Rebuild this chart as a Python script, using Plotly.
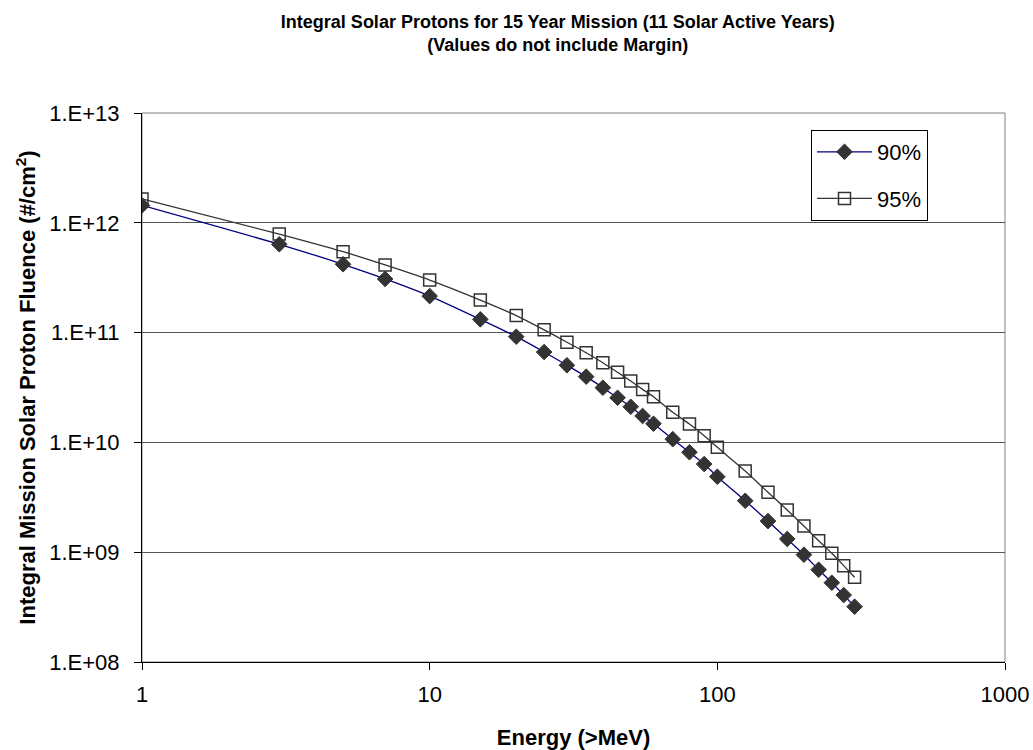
import plotly.graph_objects as go

energy = [1, 3, 5, 7, 10, 15, 20, 25, 30, 35, 40, 45, 50, 55, 60, 70, 80, 90, 100,
          125, 150, 175, 200, 225, 250, 275, 300]
fluence_90 = [1.44e12, 6.37e11, 4.19e11, 3.08e11, 2.15e11, 1.32e11, 9.18e10, 6.65e10,
              5.04e10, 3.97e10, 3.15e10, 2.55e10, 2.11e10, 1.74e10, 1.48e10, 1.07e10,
              8.13e9, 6.35e9, 4.87e9, 2.94e9, 1.92e9, 1.32e9, 9.49e8, 6.93e8, 5.27e8,
              4.07e8, 3.19e8]
fluence_95 = [1.65e12, 7.90e11, 5.46e11, 4.13e11, 3.01e11, 1.98e11, 1.43e11, 1.06e11,
              8.17e10, 6.56e10, 5.32e10, 4.35e10, 3.62e10, 3.04e10, 2.61e10, 1.88e10,
              1.47e10, 1.15e10, 9.02e9, 5.49e9, 3.51e9, 2.42e9, 1.73e9, 1.27e9, 9.77e8,
              7.54e8, 5.91e8]

x_ticks = [1, 10, 100, 1000]
x_ticktext = ["1", "10", "100", "1000"]
y_ticks = [1e8, 1e9, 1e10, 1e11, 1e12, 1e13]
y_ticktext = ["1.E+08", "1.E+09", "1.E+10", "1.E+11", "1.E+12", "1.E+13"]

FONT = "Liberation Sans, Arial, sans-serif"

fig = go.Figure()
fig.add_trace(go.Scatter(
    x=energy, y=fluence_90, name="90%", mode="lines+markers", legendgroup="a",
    line=dict(color="#000080", width=1.3, shape="spline", smoothing=0.6),
    marker=dict(symbol="diamond", size=12, color="#333333",
                line=dict(color="#333333", width=1)),
))
fig.add_trace(go.Scatter(
    x=energy, y=fluence_95, name="95%", mode="lines+markers", legendgroup="b",
    line=dict(color="#333333", width=1.3, shape="spline", smoothing=0.6),
    marker=dict(symbol="square-open", size=12, color="#333333",
                line=dict(color="#333333", width=1.5)),
))

fig.update_layout(
    width=1033, height=750,
    margin=dict(l=142, r=28, t=113, b=88),
    paper_bgcolor="white", plot_bgcolor="white",
    font=dict(family=FONT, color="black", size=22),
    title=dict(
        text="<b>Integral Solar Protons for 15 Year Mission (11 Solar Active Years)<br>"
             "(Values do not include Margin)</b>",
        x=0.54, xref="container", xanchor="center",
        y=0.963, yref="container", yanchor="top",
        font=dict(size=18, family=FONT, color="black"),
    ),
    showlegend=True,
    legend=dict(
        x=(811 - 142) / (1005 - 142), y=(662 - 130) / (662 - 113),
        xanchor="left", yanchor="top",
        bgcolor="white", bordercolor="black", borderwidth=1,
        font=dict(size=22, family=FONT, color="black"),
        itemwidth=55, tracegroupgap=15,
    ),
)

fig.update_xaxes(
    type="log", range=[0, 3], automargin=False,
    tickvals=x_ticks, ticktext=x_ticktext,
    ticks="outside", ticklen=7, tickcolor="black", tickwidth=1,
    showline=True, linecolor="black", linewidth=1, mirror=False,
    showgrid=False, zeroline=False, ticklabelstandoff=6,
    title=dict(text="<b>Energy (>MeV)</b>", font=dict(size=22, family=FONT), standoff=23),
    tickfont=dict(size=22, family=FONT),
)
fig.update_yaxes(
    type="log", range=[8, 13], automargin=False,
    tickvals=y_ticks, ticktext=y_ticktext,
    ticks="outside", ticklen=7, tickcolor="black", tickwidth=1,
    showline=True, linecolor="black", linewidth=1, mirror=False,
    showgrid=True, gridcolor="#555555", gridwidth=1, zeroline=False,
    ticklabelstandoff=10,
    title=dict(text="<b>Integral Mission Solar Proton Fluence (#/cm<sup>2</sup>)</b>",
               font=dict(size=22, family=FONT), standoff=7),
    tickfont=dict(size=22, family=FONT),
)

# grey plot-area border (top and right)
fig.add_shape(type="rect", xref="paper", yref="paper", x0=0, y0=0, x1=1, y1=1,
              line=dict(color="#808080", width=1), layer="below")

fig.write_html("out.html")
